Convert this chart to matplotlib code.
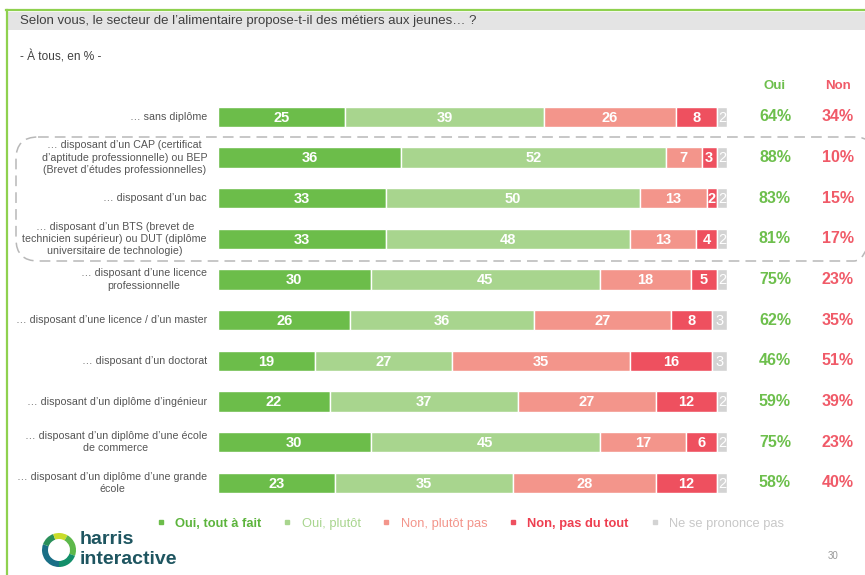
import matplotlib
matplotlib.use("Agg")
import matplotlib.pyplot as plt
from matplotlib.lines import Line2D
from matplotlib.patches import FancyBboxPatch, Rectangle, Wedge
from matplotlib.transforms import Affine2D

W, H = 865, 575

labels = [
    "… sans diplôme",
    "… disposant d’un CAP (certificat\nd’aptitude professionnelle) ou BEP\n(Brevet d’études professionnelles)",
    "… disposant d’un bac",
    "… disposant d’un BTS (brevet de\ntechnicien supérieur) ou DUT (diplôme\nuniversitaire de technologie)",
    "… disposant d’une licence\nprofessionnelle",
    "… disposant d’une licence / d’un master",
    "… disposant d’un doctorat",
    "… disposant d’un diplôme d’ingénieur",
    "… disposant d’un diplôme d’une école\nde commerce",
    "… disposant d’un diplôme d’une grande\nécole",
]
oui_tout = [25, 36, 33, 33, 30, 26, 19, 22, 30, 23]
oui_plutot = [39, 52, 50, 48, 45, 36, 27, 37, 45, 35]
non_plutot = [26, 7, 13, 13, 18, 27, 35, 27, 17, 28]
non_tout = [8, 3, 2, 4, 5, 8, 16, 12, 6, 12]
nsp = [2, 2, 2, 2, 2, 3, 3, 2, 2, 2]
total_oui = [64, 88, 83, 81, 75, 62, 46, 59, 75, 58]
total_non = [34, 10, 15, 17, 23, 35, 51, 39, 23, 40]

series_names = ["Oui, tout à fait", "Oui, plutôt", "Non, plutôt pas",
                "Non, pas du tout", "Ne se prononce pas"]
colors = ["#6cbd4a", "#a8d58e", "#f3958b", "#ee505f", "#d3d3d3"]
GREEN_TXT = "#6dbf4c"
RED_TXT = "#f05a68"

plt.rcParams["font.family"] = ["Liberation Sans", "DejaVu Sans"]

fig = plt.figure(figsize=(W / 100, H / 100), dpi=100)
# pixel transform, origin top-left
px = Affine2D().scale(1 / W, -1 / H).translate(0, 1) + fig.transFigure

# frame decoration
fig.add_artist(Rectangle((8, 12), W, 18, transform=px, color="#e4e4e4", lw=0))
fig.add_artist(Line2D([6, W], [10, 10], transform=px, color="#8fd14f", lw=1.6))
fig.add_artist(Line2D([7, 7], [10, H], transform=px, color="#8fd14f", lw=1.6))
fig.text(20 / W, 1 - 21 / H, "Selon vous, le secteur de l’alimentaire propose-t-il des métiers aux jeunes… ?",
         fontsize=9.5, color="#404040", va="center")
fig.text(20 / W, 1 - 57 / H, "- À tous, en % -", fontsize=8.6,
         color="#404040", va="center")

# dashed group box
fig.add_artist(FancyBboxPatch((16, 137), 860, 124, transform=px,
                              boxstyle="round,pad=0,rounding_size=22",
                              fill=False, ec="#b8b8b8", lw=1.1, ls=(0, (7, 4))))

# main axes, x in %, y in rows
s = 5.09
row0, step = 117, 40.65
ax = fig.add_axes([0, 0, 1, 1])
ax.set_xlim(-218 / s, (W - 218) / s)
ax.set_ylim((H - row0) / step, -row0 / step)
ax.axis("off")

rows = list(range(len(labels)))
left = [0] * len(rows)
for name, vals, c in zip(series_names, [oui_tout, oui_plutot, non_plutot, non_tout, nsp], colors):
    ax.barh(rows, vals, left=left, height=0.5, color=c, edgecolor="white", lw=1)
    for i, v in enumerate(vals):
        ax.text(left[i] + v / 2, i + 0.02, str(v), ha="center", va="center",
                color="white", fontsize=10.5, fontweight="bold" if c != colors[4] else "normal")
    left = [l + v for l, v in zip(left, vals)]

for i, lab in enumerate(labels):
    ax.text(-11 / s, i, lab, ha="right", va="center", multialignment="center",
            fontsize=7.7, color="#555555", linespacing=1.3)
    ax.text((775 - 218) / s, i, f"{total_oui[i]}%", ha="center", va="center",
            color=GREEN_TXT, fontsize=11.5, fontweight="bold")
    ax.text((838 - 218) / s, i, f"{total_non[i]}%", ha="center", va="center",
            color=RED_TXT, fontsize=11.5, fontweight="bold")

ax.text((775 - 218) / s, (86 - row0) / step, "Oui", ha="center", va="center",
        color=GREEN_TXT, fontsize=9.5, fontweight="bold")
ax.text((838 - 218) / s, (86 - row0) / step, "Non", ha="center", va="center",
        color=RED_TXT, fontsize=9.5, fontweight="bold")

# legend
handles = [Line2D([], [], marker="s", ls="", color=c, markersize=3.5) for c in colors]
leg = fig.legend(handles, series_names, loc="center", bbox_to_anchor=(466 / W, 1 - 524 / H),
                 ncol=5, frameon=False, fontsize=9.3, handletextpad=0.1, columnspacing=1.0,
                 labelcolor=["#5cb43c", "#a8d58e", "#f3958b", "#ee3f50", "#c8c8c8"])
leg.get_texts()[0].set_fontweight("bold")
leg.get_texts()[3].set_fontweight("bold")

# logo
cx, cy = 59, 550
ring = [("#1a6f86", 90, 200), ("#2a8f5a", 200, 250), ("#c9dc2a", 250, 300),
        ("#5db84a", 300, 20), ("#138f6a", 20, 90)]
for c, a1, a2 in ring:
    fig.add_artist(Wedge((cx, cy), 17, a1, a2, width=6, transform=px, color=c, lw=0))
fig.text(80 / W, 1 - 540 / H, "harris", fontsize=14, fontweight="bold",
         color="#1e5560", va="center")
fig.text(80 / W, 1 - 559 / H, "interactive", fontsize=14, fontweight="bold",
         color="#1e5560", va="center")
fig.text(833 / W, 1 - 556 / H, "30", fontsize=7, color="#999999", ha="center", va="center")

fig.savefig("out.png", dpi=100)
